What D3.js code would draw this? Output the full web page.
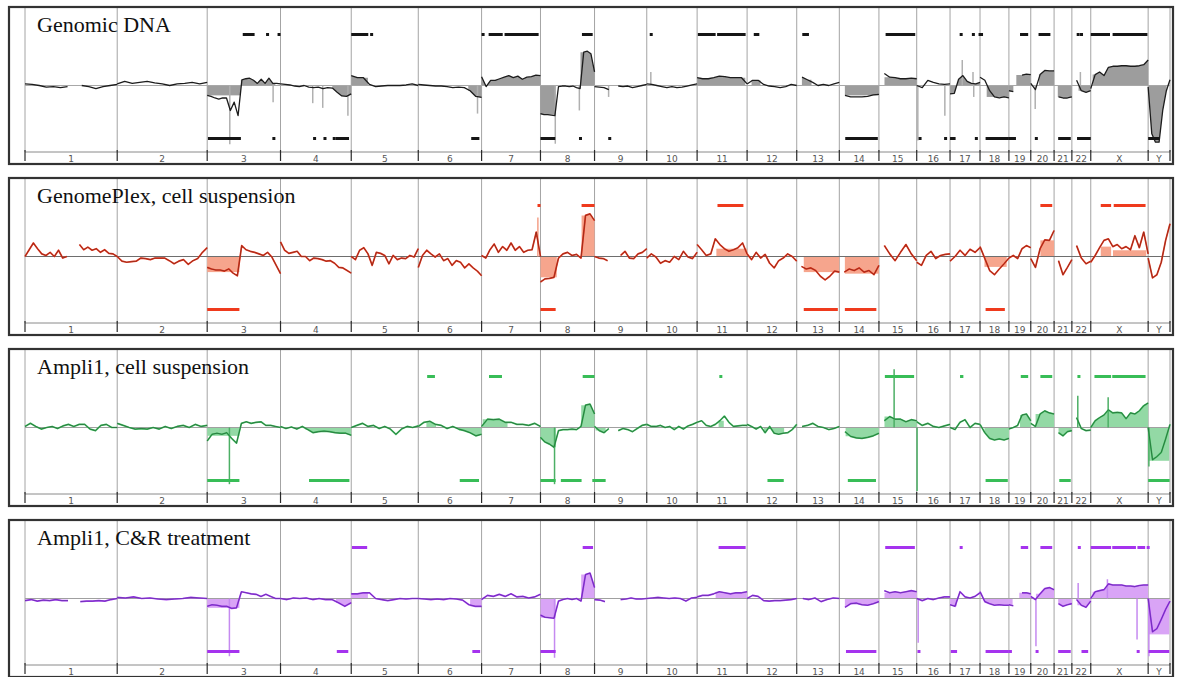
<!DOCTYPE html>
<html lang="en">
<head>
<meta charset="UTF-8">
<title>Copy number profiles</title>
<script src="https://d3js.org/d3.v7.min.js"></script>
<style>
  body { margin: 0; background: #fff; }
  svg { display: block; }
</style>
</head>
<body>
<div id="chart"></div>
<script>
// chromosomes and their lengths in Mb
const chromNames = ["1","2","3","4","5","6","7","8","9","10","11","12","13","14","15","16","17","18","19","20","21","22","X","Y"];
const chromLengths = [249,243,198,191,181,171,159,146,141,136,135,134,115,107,102,90,81,78,59,63,48,51,155,59];

const panelTitles = ["Genomic DNA", "GenomePlex, cell suspension", "Ampli1, cell suspension", "Ampli1, C&R treatment"];

// smoothed ratio, one array per chromosome, samples evenly spaced along the chromosome (null = no probes)
const dnaRatio = [
  [0.03,0.02,0,-0.03,-0.02,-0.04,-0.02,null,0,-0.02,-0.06,-0.02,0,0.02],
  [0.03,0.08,0.04,0.06,0.08,0.05,0.03,0,0.03,0.04,0.06,0.03,0.06],
  [-0.19,-0.21,-0.24,-0.26,-0.24,-0.24,-0.48,-0.32,-0.58,0.11,0.13,0.14,0.10,0.04,0.12,0.04,0.14,0.04,0.04,0.03],
  [0.03,0.02,0.01,-0.01,-0.02,0,-0.03,-0.04,-0.03,-0.06,-0.04,-0.05,-0.13,-0.2,-0.21,-0.16],
  [0.19,0.15,0.15,0.02,-0.02,-0.01,0,0,0,0.01,0.03,0],
  [0.02,0.01,0,-0.01,-0.01,-0.02,-0.04,-0.03,-0.04,-0.1,-0.21,-0.23],
  [0.17,-0.02,0.1,0.1,0.13,0.16,0.19,0.15,0.18,0.12,0.16,0.17,0.2,0.19],
  [-0.54,-0.56,-0.56,-0.57,-0.58,-0.02,-0.01,-0.01,-0.02,-0.01,-0.04,-0.06,0.64,0.66,0.61,0.26],
  [-0.02,-0.03,-0.04,-0.08,null,-0.01,-0.02,-0.01,-0.04,-0.02,0,0.02],
  [0.03,0.02,0,-0.02,-0.04,-0.02,-0.04,-0.03,-0.01,0.01,0.03],
  [0.15,0.13,0.13,0.15,0.18,0.17,0.15,0.15,0.15,0.03],
  [0.03,0.1,0.1,0.02,-0.01,-0.02,-0.04,-0.02,0.02,0],
  [null,0.16,0.11,0.06,0,0.02,0,0.03,0.06],
  [null,-0.19,-0.22,-0.22,-0.22,-0.21,-0.18,-0.17],
  [null,0.23,0.16,0.15,0.13,0.13,0.14,0.13],
  [0,-0.04,0.1,0.06,0.03,0.02,0.03],
  [-0.16,-0.15,0.12,0.19,0.08,0.04,0.03,0.06],
  [0.16,0.1,-0.1,-0.22,-0.24,-0.22,-0.24],
  [-0.1,-0.12,null,0.2,0.22,0.21],
  [0.04,-0.08,0.21,0.29,0.28,0.28],
  [null,-0.22,-0.24,-0.24,-0.22],
  [null,0.1,-0.1,-0.13,-0.1],
  [-0.06,0.21,0.26,0.19,0.35,0.37,0.37,0.38,0.38,0.37,0.37,0.38,0.4,0.49],
  [-0.03,-0.93,-1.09,-1.09,-0.48,-0.1,0.11]
];
// shaded segments: [chrom, startMb, endMb, segment level or null = follow the ratio]
const dnaFills = [["3",0,91,-0.19],["3",91,184,null],["4",140,191,null],["5",0,45,null],["6",135,171,null],
  ["7",0,159,null],["8",0,42,-0.56],["8",108,146,null],["11",0,130,null],["12",12,36,null],["13",14,40,null],
  ["14",15,107,-0.19],["15",15,102,null],["17",0,81,null],["18",18,78,-0.22],["19",0,12,-0.12],["19",20,59,null],
  ["20",22,63,null],["21",10,48,-0.22],["22",18,51,null],["X",5,155,null],["Y",0,50,null]];
// single outlier probes: [chrom, Mb, ratio]
const dnaSpikes = [["3",61,-1.13],["3",178,-0.32],["4",87,-0.34],["4",114,-0.43],["4",182,-0.58],["6",160,-0.54],
  ["8",40,-1.12],["8",105,-0.48],["9",38,-0.22],["10",11,0.26],["16",3,-1.06],["16",76,-0.58],["17",33,0.49],
  ["17",62,0.26],["17",64,-0.22],["20",12,-0.45],["22",23,0.26]];
// called gains and losses: [chrom, startMb, endMb]
const dnaGains = [["3",96,128],["3",159,164],["3",190,196],["5",0,46],["5",51,53],["7",0,2],["7",19,57],["7",62,154],
  ["8",112,141],["10",8,10],["11",2,50],["11",54,131],["12",18,33],["13",15,33],["15",18,98],["17",26,33],["17",59,61],
  ["17",77,81],["18",0,8],["19",30,52],["20",21,53],["22",13,15],["22",22,24],["X",0,52],["X",59,153]];
const dnaLosses = [["3",2,91],["3",176,180],["4",88,91],["4",116,119],["4",141,144],["4",149,185],["6",143,165],
  ["8",0,40],["8",104,107],["9",37,40],["14",16,104],["16",5,7],["16",74,77],["17",0,15],["17",67,70],["18",15,78],
  ["19",0,19],["20",11,13],["21",11,45],["22",14,51],["Y",0,30]];

const plexRatio = [
  [0,0.13,0.26,0.15,0.05,0.02,0.08,0,0.12,-0.03,0,null,null,0.23,0.13,0.18,0.12,0.15,0.08,0.13,0.06,0.05,0],
  [0,-0.09,-0.11,-0.1,-0.09,-0.03,-0.04,-0.06,-0.03,-0.03,-0.03,-0.08,-0.14,-0.09,-0.06,-0.15,-0.08,-0.04,0.08,0.17],
  [-0.21,-0.24,-0.26,-0.26,-0.28,-0.24,-0.32,-0.37,0.21,0.13,0.1,0.08,0.05,0.02,0.08,-0.01,-0.17,-0.33],
  [0.28,0.12,0.06,0.08,0.1,0,0,-0.08,-0.03,-0.04,-0.06,-0.09,-0.08,-0.13,-0.21,-0.22,-0.27,-0.32],
  [0,-0.06,0.12,0.17,0.05,-0.17,0.08,0.06,0.02,-0.14,0.02,-0.06,-0.03,-0.04,0.02,-0.01,0.15],
  [-0.21,0.02,0.12,0.05,-0.01,0.05,-0.08,-0.04,-0.17,-0.08,-0.11,-0.22,-0.14,-0.22,-0.28,-0.37],
  [0.02,-0.03,0.13,0.24,0.08,0.19,0.12,0.26,0.12,0.19,0.08,0.12,0.13,0.47,0],
  [-0.49,-0.43,-0.42,-0.4,-0.03,0.05,0.08,0.02,0.04,-0.03,0.79,0.82,0.69],
  [0,-0.03,-0.04,-0.08,null,null,0.02,0.1,-0.03,-0.04,0.05,0.08,0.15],
  [-0.03,0.05,-0.01,-0.13,-0.08,-0.11,0,-0.06,0.1,-0.01,-0.04,0.08],
  [0.23,0.13,0.02,0.05,0.34,0.23,0.15,0.1,0.13,0.17,0.26,0.05],
  [0.05,-0.06,0.08,-0.03,0.04,-0.13,-0.22,-0.08,-0.03,0.05,0,-0.09],
  [null,-0.19,-0.24,-0.22,-0.27,-0.38,-0.45,-0.38,-0.28,-0.3],
  [null,-0.3,-0.24,-0.27,-0.22,-0.3,-0.27,-0.35,-0.17],
  [null,0.21,0.05,-0.08,0.08,0.23,0.05,-0.08],
  [-0.11,-0.17,0.02,0.1,-0.04,0.02,0.04,0.05],
  [-0.09,0,0.12,0.02,0.14,0.08,0.17],
  [0.19,-0.04,-0.27,-0.35,-0.24,-0.14,-0.03],
  [-0.03,0.02,-0.04,0.15,0.21,0.17],
  [-0.04,-0.21,0.15,0.32,0.31,0.5],
  [null,-0.08,-0.35,-0.21,-0.06],
  [null,0.21,-0.03,-0.14,-0.09],
  [-0.11,0.02,0.17,0.31,0.34,0.19,0.23,0.15,0.19,0.13,0.4,0.17,0.47,0.05],
  [-0.03,-0.41,-0.35,-0.11,0.31,0.63]
];
const plexFills = [["3",0,87,-0.3],["8",0,44,-0.4],["8",111,146,null],["11",52,135,0.15],["13",19,115,-0.3],
  ["14",15,107,-0.33],["18",12,72,-0.2],["20",26,63,0.31],["X",27,55,0.19],["X",60,150,0.12]];
const plexSpikes = [["7",152,0.75]];
const plexGains = [["7",151,153],["8",111,146],["11",55,125],["20",26,58],["X",27,55],["X",62,148]];
const plexLosses = [["3",0,87],["8",0,41],["13",19,111],["14",15,100],["18",15,67]];

const ampCellRatio = [
  [0.02,0.08,0.02,-0.03,0,0.02,-0.02,0.03,0.06,0.02,0.06,0.06,-0.03,-0.06,0.04,0.06,0,0],
  [0.08,0.04,0,-0.03,-0.02,-0.03,0,-0.03,0.02,-0.02,0.02,0.04,0,0.06,0.02,0.04],
  [-0.26,-0.13,-0.11,-0.13,-0.1,-0.21,-0.3,0.08,0.11,0.08,0.1,0.11,0.04,0.04,0.02,0],
  [0.02,-0.02,0.01,-0.03,0.02,-0.04,-0.1,-0.08,-0.07,-0.08,-0.1,-0.11,-0.11,-0.15],
  [0,0.04,0.08,0.02,0.04,-0.02,0.02,-0.03,-0.13,-0.03,0.02,0,0.03],
  [0.02,0.1,0.12,0.06,0.04,-0.02,0.02,-0.03,-0.06,-0.1,-0.16,-0.13],
  [0.02,0.16,0.15,0.16,0.1,0.1,0.06,0.06,0.04,0.08,0.02],
  [-0.19,-0.28,-0.32,-0.38,-0.06,-0.04,-0.04,-0.03,-0.04,0.02,0.43,0.45,0.26],
  [0.02,-0.06,-0.1,-0.02,null,-0.06,-0.02,-0.04,-0.08,-0.02,0.04,0.06],
  [0.06,0.02,0.02,0.04,0,0.02,-0.04,0.02,-0.03,0.03,0.06,0.1],
  [0.1,0.13,0.04,0.02,0.06,0.13,0.22,0.1,0.02,0.03,0.04,0.04],
  [0.06,0.02,-0.03,0.02,-0.1,0.02,-0.11,-0.13,-0.11,-0.1,-0.04,0.06],
  [null,0.02,0.04,0.08,0.02,0,-0.04,-0.02,0.02],
  [null,-0.08,-0.17,-0.2,-0.21,-0.19,-0.16,-0.11],
  [null,0.13,0.21,0.16,0.16,0.11,0.15,0.13],
  [0.11,0.04,0.08,0.02,0,0.03,0.06],
  [0,-0.04,0.1,0.15,0,0.08,0.06],
  [0.06,-0.1,-0.21,-0.24,-0.22,-0.24,-0.21],
  [-0.03,0,0.04,0.24,0.26,0.13],
  [0.08,0.02,0.26,0.32,0.28,0.26],
  [null,-0.1,-0.16,-0.08,-0.06],
  [null,0.19,-0.02,-0.06,-0.05],
  [0,0.13,0.19,0.24,0.34,0.28,0.29,0.28,0.17,0.28,0.26,0.32,0.42,0.47],
  [0,-0.62,-0.56,-0.48,-0.22,0.06]
];
const ampCellFills = [["3",0,87,-0.16],["4",67,191,null],["6",22,48,null],["6",110,171,null],["7",3,70,null],
  ["8",0,42,null],["8",110,146,null],["9",3,30,null],["11",58,72,null],["12",45,100,null],["14",17,107,null],
  ["15",15,102,null],["18",12,78,null],["19",30,59,null],["20",13,63,null],["21",12,48,null],["X",0,155,null],
  ["Y",0,57,-0.64]];
const ampCellSpikes = [["3",60,-1.09],["8",38,-1.09],["15",41,1.12],["16",1,-1.22],["22",16,0.61],["X",47,0.58],["Y",2,-0.75]];
const ampCellGains = [["6",24,45],["7",20,55],["8",114,146],["11",60,68],["15",16,95],["17",27,36],["19",32,52],
  ["20",26,58],["22",15,17],["X",10,55],["X",58,148]];
const ampCellLosses = [["3",0,87],["4",77,186],["6",112,164],["8",0,41],["8",55,111],["8",140,146],["9",0,30],
  ["12",55,99],["14",23,99],["18",15,75],["21",14,45],["Y",0,58]];

const ampCRRatio = [
  [-0.04,-0.02,-0.05,-0.03,-0.04,-0.02,-0.04,-0.04,null,-0.06,-0.05,-0.05,-0.04,-0.05,-0.02,0],
  [0.02,0.01,0.03,0,0.01,-0.01,-0.02,-0.01,0,0.02,0.01,0],
  [-0.15,-0.12,-0.13,-0.15,-0.15,-0.19,-0.18,0.13,0.11,0.09,0.08,0.04,0.08,0.04,0,0],
  [0,-0.02,0.01,0,0.01,-0.02,0,-0.02,-0.02,-0.08,-0.15,-0.08],
  [0.09,0.09,0.11,0.11,0,-0.02,-0.04,-0.02,0,-0.01,0,0],
  [0,-0.01,-0.02,-0.01,-0.02,0,-0.01,-0.03,-0.12,-0.15,-0.15],
  [-0.02,0.06,0.04,0.08,0.04,0.09,0.03,0.04,0.01,0.03,0.08],
  [-0.32,-0.36,-0.37,-0.38,-0.05,-0.02,0,-0.02,0,-0.05,0.46,0.49,0.21],
  [-0.02,-0.03,-0.06,null,null,-0.02,-0.01,0.01,-0.01,-0.01,0],
  [0,0.01,0.02,0.01,0,0.01,0,-0.05,0.01,0.02],
  [0.03,0.06,0.06,0.09,0.13,0.11,0.09,0.11,0.11,0.13],
  [0,0.06,0.04,-0.04,-0.05,-0.04,-0.04,-0.03,-0.02,0],
  [null,0,-0.02,0.01,-0.06,-0.02,0.01,0],
  [null,-0.17,-0.1,-0.09,-0.12,-0.13,-0.1,-0.06],
  [null,0.15,0.11,0.13,0.11,0.13,0.15,0.13],
  [0,-0.04,0,-0.02,0.01,0.03,0.03],
  [-0.12,-0.15,0.13,0.03,0.01,0.04,0.11],
  [0.13,-0.06,-0.1,-0.13,-0.12,-0.13,-0.13],
  [-0.12,-0.14,null,0.11,0.11,0.09],
  [0.04,-0.02,0.09,0.19,0.21,0.17],
  [null,-0.1,-0.15,-0.12,-0.1],
  [null,-0.02,-0.13,-0.17,-0.05],
  [0,0.13,0.15,0.17,0.28,0.26,0.26,0.26,0.24,0.24,0.23,0.25,0.26,0.26],
  [0,-0.64,-0.58,-0.4,-0.21,-0.05]
];
const ampCRFills = [["3",0,87,-0.18],["4",150,191,null],["5",0,45,null],["6",140,171,null],["8",0,41,-0.37],
  ["8",110,146,null],["11",50,135,null],["14",15,107,null],["15",15,102,null],["17",0,18,null],["18",12,78,null],
  ["19",0,10,null],["19",28,59,null],["20",14,63,null],["21",11,48,null],["22",15,51,null],["X",5,155,null],
  ["Y",0,57,-0.69]];
const ampCRSpikes = [["3",60,-1.11],["8",38,-1.14],["16",4,-0.85],["20",14,-0.92],["22",17,0.3],["X",45,0.37],
  ["X",125,-0.79],["Y",2,-1.11]];
const ampCRGains = [["5",2,43],["8",114,142],["11",58,131],["15",17,97],["17",26,33],["19",32,52],["20",26,58],
  ["22",16,18],["X",0,55],["X",58,122],["X",126,147],["X",151,155]];
const ampCRLosses = [["3",0,87],["4",152,183],["6",146,167],["8",0,41],["14",18,100],["16",2,4],["17",2,19],
  ["18",15,78],["19",0,7],["20",13,15],["21",11,45],["22",26,44],["X",124,126],["Y",1,57]];

const panels = [
  { title: panelTitles[0], ratio: dnaRatio, fills: dnaFills, spikes: dnaSpikes, gains: dnaGains, losses: dnaLosses,
    under: null, line: "#1c1c1c", fill: "#9d9d9d", spike: "#b0b0b0", bar: "#151515", base: "#a8a8a8" },
  { title: panelTitles[1], ratio: plexRatio, fills: plexFills, spikes: plexSpikes, gains: plexGains, losses: plexLosses,
    under: "#e8341c", line: "#6a2a1c", fill: "#f6a58d", spike: "#f4a088", bar: "#ef3a1d", base: "#6e6e6e" },
  { title: panelTitles[2], ratio: ampCellRatio, fills: ampCellFills, spikes: ampCellSpikes, gains: ampCellGains, losses: ampCellLosses,
    under: "#3fbf5f", line: "#1f4a2c", fill: "#93d9a5", spike: "#4caf65", bar: "#38bd57", base: "#a0a0a0" },
  { title: panelTitles[3], ratio: ampCRRatio, fills: ampCRFills, spikes: ampCRSpikes, gains: ampCRGains, losses: ampCRLosses,
    under: "#a73cf2", line: "#4a2a90", fill: "#d9a4f6", spike: "#c58af0", bar: "#a533ee", base: "#a0a0a0" }
];

const W = 1177, H = 677;
const frameLeft = 9, frameRight = 1173, plotLeft = 25, plotRight = 1170;
const panelH = 157, panelStep = 171, firstTop = 7;

const offsets = [0, ...d3.cumsum(chromLengths)];
const total = offsets[offsets.length - 1];
const chromIdx = new Map(chromNames.map((c, i) => [c, i]));
const x = d3.scaleLinear().domain([0, total]).range([plotLeft, plotRight]);
const gx = (c, mb) => x(offsets[chromIdx.get(c)] + mb);

const svg = d3.select("#chart").append("svg")
  .attr("width", W).attr("height", H)
  .style("font-family", "'Liberation Serif', 'Times New Roman', serif");

panels.forEach((p, pi) => {
  const top = firstTop + pi * panelStep;
  const base = top + 78.5;
  const gainY = top + 27.5, lossY = top + 131.5;
  const stripTop = top + 145;
  const y = d3.scaleLinear().domain([-1, 1]).range([base + 52, base - 52]);
  const g = svg.append("g");

  g.append("rect").attr("x", frameLeft).attr("y", top).attr("width", frameRight - frameLeft).attr("height", panelH)
    .attr("fill", "#fff");

  // chromosome dividers
  g.selectAll(".div").data(offsets).join("line")
    .attr("x1", d => x(d)).attr("x2", d => x(d))
    .attr("y1", top).attr("y2", stripTop)
    .attr("stroke", "#a4a4a4").attr("stroke-width", 1);

  // sample points per chromosome
  const series = p.ratio.map((vals, ci) => vals.map((v, i) => ({
    pos: chromLengths[ci] * i / (vals.length - 1), v: v, ci: ci
  })));

  // shaded segments
  const area = d3.area().x(d => gx(chromNames[d.ci], d.pos)).y0(base).y1(d => y(d.v));
  p.fills.forEach(([c, s, e, level]) => {
    if (level !== null) {
      g.append("rect").attr("x", gx(c, s)).attr("width", gx(c, e) - gx(c, s))
        .attr("y", Math.min(base, y(level))).attr("height", Math.abs(y(level) - base))
        .attr("fill", p.fill);
    } else {
      const ci = chromIdx.get(c);
      const pts = series[ci].filter(d => d.v !== null && d.pos >= s && d.pos <= e);
      if (!pts.length) return;
      const ext = [{ pos: s, v: pts[0].v, ci }, ...pts, { pos: e, v: pts[pts.length - 1].v, ci }];
      g.append("path").datum(ext).attr("d", area).attr("fill", p.fill);
    }
  });

  // baseline
  g.append("line").attr("x1", plotLeft).attr("x2", plotRight).attr("y1", base).attr("y2", base)
    .attr("stroke", p.base).attr("stroke-width", 1);

  // outlier probes
  g.selectAll(".spike").data(p.spikes).join("line")
    .attr("x1", d => gx(d[0], d[1])).attr("x2", d => gx(d[0], d[1]))
    .attr("y1", base).attr("y2", d => y(d[2]))
    .attr("stroke", p.spike).attr("stroke-width", 1.5);

  // ratio line
  const line = d3.line().defined(d => d.v !== null)
    .x(d => gx(chromNames[d.ci], d.pos)).y(d => y(d.v));
  series.forEach(s => {
    if (p.under) {
      g.append("path").datum(s).attr("d", line).attr("fill", "none")
        .attr("stroke", p.under).attr("stroke-width", 1.7).attr("stroke-linejoin", "round");
      g.append("path").datum(s).attr("d", line).attr("fill", "none")
        .attr("stroke", p.line).attr("stroke-width", 0.7).attr("stroke-opacity", 0.85);
    } else {
      g.append("path").datum(s).attr("d", line).attr("fill", "none")
        .attr("stroke", p.line).attr("stroke-width", 1.3).attr("stroke-linejoin", "round");
    }
  });

  // gain / loss calls
  const bar = (list, yy) => g.selectAll(null).data(list).join("rect")
    .attr("x", d => gx(d[0], d[1]))
    .attr("width", d => Math.max(3, gx(d[0], d[2]) - gx(d[0], d[1])))
    .attr("y", yy - 1.5).attr("height", 3)
    .attr("fill", p.bar);
  bar(p.gains, gainY);
  bar(p.losses, lossY);

  // chromosome label strip
  g.append("line").attr("x1", plotLeft).attr("x2", plotRight).attr("y1", stripTop).attr("y2", stripTop)
    .attr("stroke", "#8a8a8a");
  g.selectAll(".tick").data(offsets).join("line")
    .attr("x1", d => x(d)).attr("x2", d => x(d))
    .attr("y1", stripTop - 2).attr("y2", stripTop + 9)
    .attr("stroke", "#2a2a2a").attr("stroke-width", 1.2);
  g.selectAll(".lab").data(chromNames).join("text")
    .attr("x", (d, i) => x(offsets[i] + chromLengths[i] / 2))
    .attr("y", stripTop + 9.5)
    .attr("text-anchor", "middle")
    .style("font-family", "'DejaVu Sans', sans-serif").style("font-size", "9px")
    .attr("fill", "#555").text(d => d);

  // frame
  g.append("rect").attr("x", frameLeft).attr("y", top).attr("width", frameRight - frameLeft).attr("height", panelH)
    .attr("fill", "none").attr("stroke", "#333").attr("stroke-width", 2.2);

  g.append("text").attr("x", 37).attr("y", top + 25)
    .style("font-size", "22px").attr("fill", "#111").text(p.title);
});
</script>
</body>
</html>
